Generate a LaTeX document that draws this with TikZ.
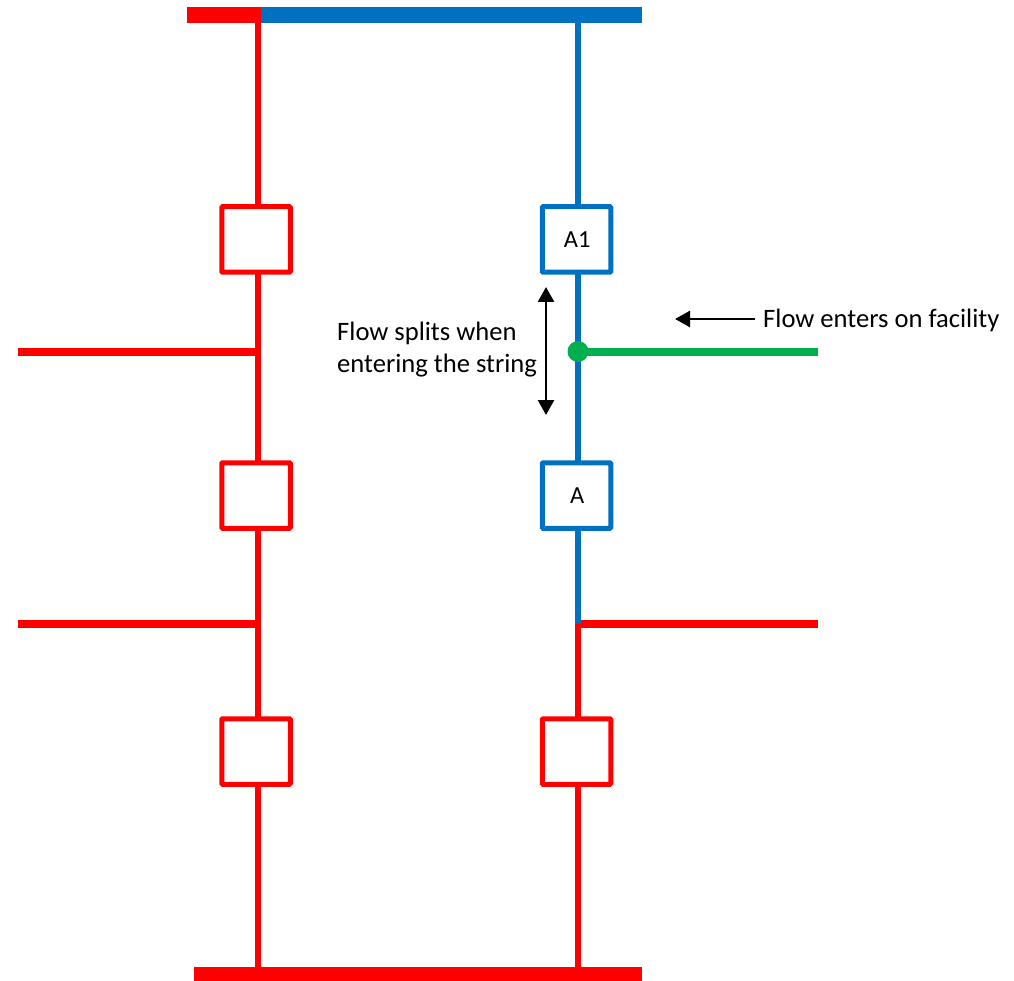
\documentclass[tikz,border=0pt]{standalone}
\usepackage{fontspec}
\setmainfont{Carlito}
\usetikzlibrary{arrows.meta}
\definecolor{pipeblue}{RGB}{0,112,192}
\definecolor{pipegreen}{RGB}{0,176,80}
\definecolor{pipered}{RGB}{255,0,0}
\tikzset{
  x=1pt,y=-1pt,
  pipe/.style={line width=6pt},
  branch/.style={line width=8pt},
  bar/.style={line width=15.5pt},
  valve/.style={draw,fill=white,line width=5pt,minimum width=68.5pt,minimum height=65.5pt,inner sep=0pt,rounded corners=1pt,font=\fontsize{24.5}{28}\selectfont,text=black},
  label/.style={font=\fontsize{26.6}{32}\selectfont,text=black,inner sep=0pt},
  flow/.style={line width=2.5pt,draw=black,{Triangle[length=15pt,width=16pt]}-{Triangle[length=15pt,width=16pt]}},
  flowin/.style={line width=2.5pt,draw=black,{Triangle[length=15pt,width=16pt]}-}
}
\begin{document}
\begin{tikzpicture}
\useasboundingbox (0,0) rectangle (1014,981);
% bars
\coordinate (tl) at (187,15);
\coordinate (tm) at (261,15);
\coordinate (tr) at (642,15);
\coordinate (bl) at (194,974.5);
\coordinate (br) at (642,974.5);
\coordinate (tLeft) at (258,15);
\coordinate (tRight) at (578,15);
\coordinate (bLeft) at (258,974.5);
\coordinate (bRight) at (578,974.5);
% junctions
\coordinate (jl1) at (258,351.5);
\coordinate (jl2) at (258,623.5);
\coordinate (jr2) at (578,623.5);
\coordinate (el1) at (18,351.5);
\coordinate (el2) at (18,623.5);
\coordinate (er2) at (818,623.5);
\coordinate (eg) at (818,351.5);
% lines
\draw[pipe,pipered] (tLeft) -- (bLeft);
\draw[branch,pipered] (jl1) -- (el1);
\draw[branch,pipered] (jl2) -- (el2);
\draw[pipe,pipered] (jr2) -- (bRight);
\draw[branch,pipered] (jr2) -- (er2);
\draw[pipe,pipeblue] (tRight) -- (jr2);
\draw[bar,pipered] (tl) -- (tm);
\draw[bar,pipeblue] (tm) -- (tr);
\draw[bar,pipered] (bl) -- (br);
% valves
\node[valve,draw=pipered] (v1) at (256,239.5) {};
\node[valve,draw=pipered] (v2) at (256,495.5) {};
\node[valve,draw=pipered] (v3) at (256,751.5) {};
\node[valve,draw=pipeblue] (a1) at (576.5,239.5) {\raisebox{-2pt}{\hspace{1.5pt}A1}};
\node[valve,draw=pipeblue] (a) at (576.5,495.5) {\raisebox{-2pt}{\hspace{1.5pt}A}};
\node[valve,draw=pipered] (v4) at (576.5,751.5) {};
% green inflow
\node[circle,fill=pipegreen,minimum size=21pt,inner sep=0pt] (g) at (578,351.5) {};
\draw[branch,pipegreen] (g.center) -- (eg);
% labels
\node[label,align=left,anchor=north west] (split) at (337,322) {Flow splits when\\entering the string};
\node[label,anchor=west] (enter) at (763,320.5) {Flow enters on facility};
\coordinate (fs1) at (546,287);
\coordinate (fs2) at (546,415);
\coordinate (fi1) at (675,319);
\coordinate (fi2) at (755,319);
\draw[flow] (fs1) -- (fs2);
\draw[flowin] (fi1) -- (fi2);
\end{tikzpicture}
\end{document}
